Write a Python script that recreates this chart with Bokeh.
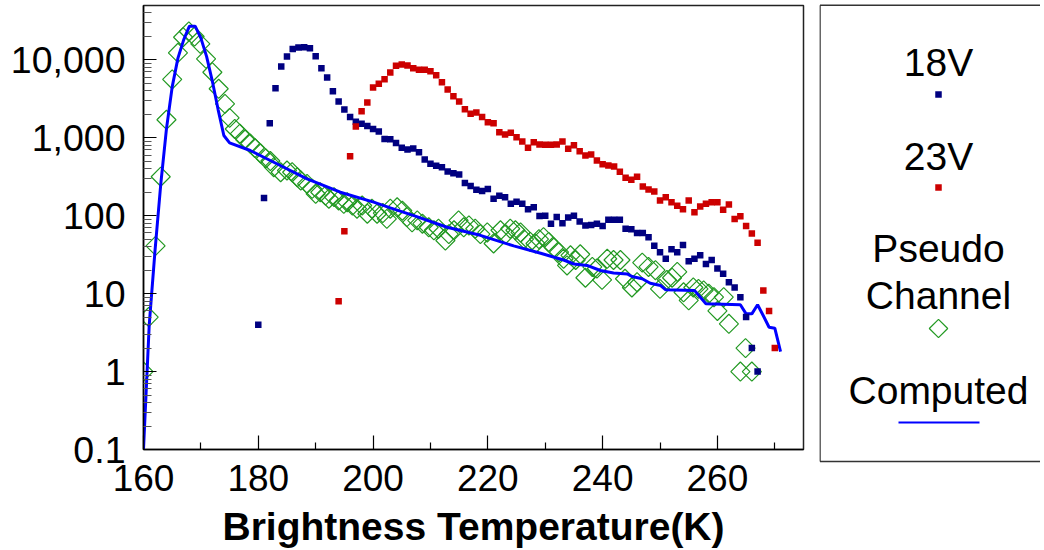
import math
from bokeh.plotting import figure
from bokeh.models import Range1d, FixedTicker, CustomJSTickFormatter
from bokeh.layouts import row
from bokeh.embed import file_html
from bokeh.resources import INLINE
from bokeh.core.properties import value

# ---------------- data ----------------
legend_labels = ["18V", "23V", "Pseudo", "Channel", "Computed"]
x_title = "Brightness Temperature(K)"

t18 = list(range(180, 268))
v18 = [4, 169, 1540, 4320, 8200, 11000, 13800, 14400, 14500, 14100,
       11100, 7800, 5930, 3950, 2920, 2300, 1840, 1600, 1510, 1415,
       1295, 1200, 964, 958, 857, 743, 707, 728, 652, 526,
       463, 436, 418, 369, 351, 338, 262, 240, 215, 207,
       220, 165, 180, 173, 142, 151, 142, 121, 128, 99,
       100, 79, 96, 80, 95, 100, 84, 75, 76, 79,
       74, 89, 89, 89, 68, 67, 60, 60, 53, 41,
       34, 28, 37, 34, 42, 26, 28, 31, 24, 27,
       21, 18, 14, 12, 9, 5, 2, 1]

t23 = list(range(194, 271))
v23 = [8, 63, 580, 1390, 2190, 2830,
       4420, 4920, 5640, 6870, 8380, 8710, 8460, 7800, 7440, 7440,
       7140, 6350, 5160, 4160, 3410, 2920, 2320, 2030, 2110, 1840,
       1580, 1540, 1180, 1100, 1160, 1015, 895, 743, 877, 818,
       811, 811, 818, 895, 722, 802, 671, 592, 609, 511,
       458, 441, 428, 366, 306, 289, 315, 237, 217, 204,
       157, 173, 149, 134, 121, 157, 111, 131, 142, 149,
       149, 119, 139, 91, 98, 74, 59, 45, 11, 6, 2]

t_pseudo = [160.0, 160.9, 162.1, 163.0, 164.0, 165.0, 166.0, 166.9, 167.9, 168.9,
            169.9, 170.9, 172.0, 173.1, 174.2, 175.0, 175.9, 176.8, 177.7, 178.6,
            179.4, 180.4, 181.3, 182.1, 182.7, 183.9, 185.0, 185.9, 186.8, 187.4,
            188.5, 189.4, 190.0, 190.8, 191.7, 192.3, 193.2, 194.0, 194.9, 195.5,
            196.4, 197.2, 198.1, 199.0, 199.8, 200.7, 201.7, 202.4, 203.0, 204.2,
            205.1, 205.9, 206.8, 207.7, 208.6, 209.7, 210.6, 211.4, 212.6, 213.2,
            214.1, 214.9, 215.8, 216.7, 217.8, 218.7, 219.9, 221.0, 222.2, 223.1,
            223.9, 224.8, 225.7, 226.3, 227.4, 228.3, 228.9, 229.7, 230.6, 231.5,
            232.4, 233.2, 233.8, 234.4, 235.3, 236.1, 237.0, 238.2, 239.0, 239.9,
            240.8, 241.9, 243.1, 243.9, 245.1, 246.0, 246.9, 248.0, 249.2, 250.0,
            251.2, 252.1, 253.0, 254.1, 255.0, 255.8, 256.7, 257.6, 258.5, 259.4,
            260.0, 261.1, 262.0, 264.0, 264.9, 266.0]
v_pseudo = [1, 5, 41, 316, 1700, 5600, 12300, 19500, 23100, 19900,
            16000, 10300, 6930, 4250, 2720, 1800, 1295, 1130, 948, 843,
            738, 629, 542, 503, 419, 361, 380, 361, 312, 283,
            256, 221, 191, 200, 181, 165, 173, 157, 142, 149,
            135, 123, 135, 106, 123, 106, 108, 91, 123, 128,
            116, 96, 82, 87, 79, 71, 65, 68, 48, 58,
            65, 87, 71, 75, 68, 58, 61, 44, 65, 58,
            68, 65, 61, 50, 46, 44, 50, 53, 46, 39,
            34, 28, 23, 31, 27, 32, 16, 22, 21, 15,
            28, 27, 27, 15.5, 12, 14, 25, 22, 20, 11.5,
            15, 16, 19, 10.4, 8.2, 12, 11.5, 11, 10, 9,
            6, 9, 4.1, 1, 2, 1]

t_comp = [160, 161, 162, 163, 164, 165, 166, 167, 168, 169,
          170, 171, 172, 173, 174, 175, 178.6, 182.7, 188.5, 194.3,
          200.1, 203, 207.1, 212.9, 218.7, 224.5, 229.2, 233.2, 235, 237.3,
          239.6, 241.9, 244.3, 245.1, 246.9, 248.3, 250.1, 251, 256, 258,
          264, 265, 266, 267, 268, 269, 270, 271]
v_comp = [0.1, 4, 35, 250, 1300, 4500, 10500, 18000, 27000, 27000,
          19000, 11000, 5300, 2300, 1070, 860, 686, 485, 297, 200,
          149, 126, 100, 71, 56, 41, 33, 27, 24, 23,
          19.8, 18.4, 17.9, 16.6, 15.5, 13.6, 12.7, 11.2, 11.0, 7.4,
          7.2, 5.5, 5.5, 7.2, 5.2, 3.7, 3.6, 1.8]

x_major = [160, 180, 200, 220, 240, 260]
x_minor = [170, 190, 210, 230, 250, 270]
y_major = [0.1, 1, 10, 100, 1000, 10000]

# ---------------- styles ----------------
FONT = "Liberation Sans"
C18 = "#000080"
C23 = "#cc0000"
CPS = "#229922"
CCO = "#0000ff"

y_minor = [k * d for d in y_major for k in range(2, 10)]

p = figure(width=819, height=550, x_range=Range1d(160, 275),
           y_range=Range1d(0.1, 49750), y_axis_type="log",
           output_backend="svg", toolbar_location=None,
           min_border_left=143, min_border_right=16, min_border_top=5,
           min_border_bottom=101, frame_align=False)
p.xgrid.visible = False
p.ygrid.visible = False
p.outline_line_color = "#222222"
p.outline_line_width = 1.5
p.background_fill_color = "white"
p.border_fill_color = "white"

xa = p.xaxis[0]
xa.ticker = FixedTicker(ticks=x_major, minor_ticks=x_minor)
xa.major_tick_in = 14
xa.major_tick_out = 0
xa.minor_tick_in = 7
xa.minor_tick_out = 0
xa.major_label_text_font = FONT
xa.major_label_text_font_size = "37px"
xa.major_label_text_color = "black"
xa.major_label_standoff = 15
xa.axis_line_width = 1.5
xa.major_tick_line_width = 1.2
xa.minor_tick_line_width = 1.2
xa.axis_label = x_title
xa.axis_label_text_font = FONT
xa.axis_label_text_font_size = "39px"
xa.axis_label_text_font_style = "bold"
xa.axis_label_text_color = "black"
xa.axis_label_standoff = 11

ya = p.yaxis[0]
ya.ticker = FixedTicker(ticks=y_major, minor_ticks=y_minor)
ya.formatter = CustomJSTickFormatter(code="""
if (tick < 1) { return tick.toFixed(1); }
return Math.round(tick).toString().replace(/\\B(?=(\\d{3})+(?!\\d))/g, ',');
""")
ya.major_tick_in = 13
ya.major_tick_out = 0
ya.minor_tick_in = 8
ya.minor_tick_out = 0
ya.minor_tick_line_color = "#555555"
ya.major_label_text_font = FONT
ya.major_label_text_font_size = "37.5px"
ya.major_label_text_color = "black"
ya.major_label_standoff = 18
ya.axis_line_width = 1.5
ya.major_tick_line_width = 1.2
ya.minor_tick_line_width = 1.2

# series
p.scatter(t_pseudo, v_pseudo, marker="square", size=13.5, angle=math.pi / 4,
          fill_color=None, line_color=CPS, line_width=1.2)
p.line(t_comp, v_comp, line_color=CCO, line_width=3)
p.scatter(t18, v18, marker="square", size=6.5, fill_color=C18, line_color=None)
p.scatter(t23, v23, marker="square", size=6.5, fill_color=C23, line_color=None)

# ---------------- legend panel ----------------
lg = figure(width=221, height=550, x_range=Range1d(819, 1040),
            y_range=Range1d(550, 0), output_backend="svg",
            toolbar_location=None, min_border=0, frame_align=False,
            x_axis_location=None, y_axis_location=None)
lg.xgrid.visible = False
lg.ygrid.visible = False
lg.outline_line_color = None
lg.background_fill_color = "white"
lg.border_fill_color = "white"

lg.segment(x0=[819.5, 819.5, 819.5], y0=[4.7, 4.7, 461],
           x1=[819.5, 1045, 1045], y1=[461, 4.7, 461],
           line_color="#333333", line_width=1.5)

lx = 938
lg.text(x=[lx] * 5, y=[61.7, 155.7, 248, 295, 390], text=legend_labels,
        text_align="center", text_baseline="alphabetic",
        text_font=value(FONT), text_font_size="39px", text_color="black")
lg.scatter([lx], [94], marker="square", size=6.5, fill_color=C18, line_color=None)
lg.scatter([lx], [187], marker="square", size=6.5, fill_color=C23, line_color=None)
lg.scatter([lx], [328], marker="square", size=13, angle=math.pi / 4,
           fill_color=None, line_color=CPS, line_width=1.2)
lg.line([898, 979], [422, 422], line_color=CCO, line_width=2)

layout = row(p, lg, spacing=0)
open("out.html", "w").write(file_html(layout, INLINE))
